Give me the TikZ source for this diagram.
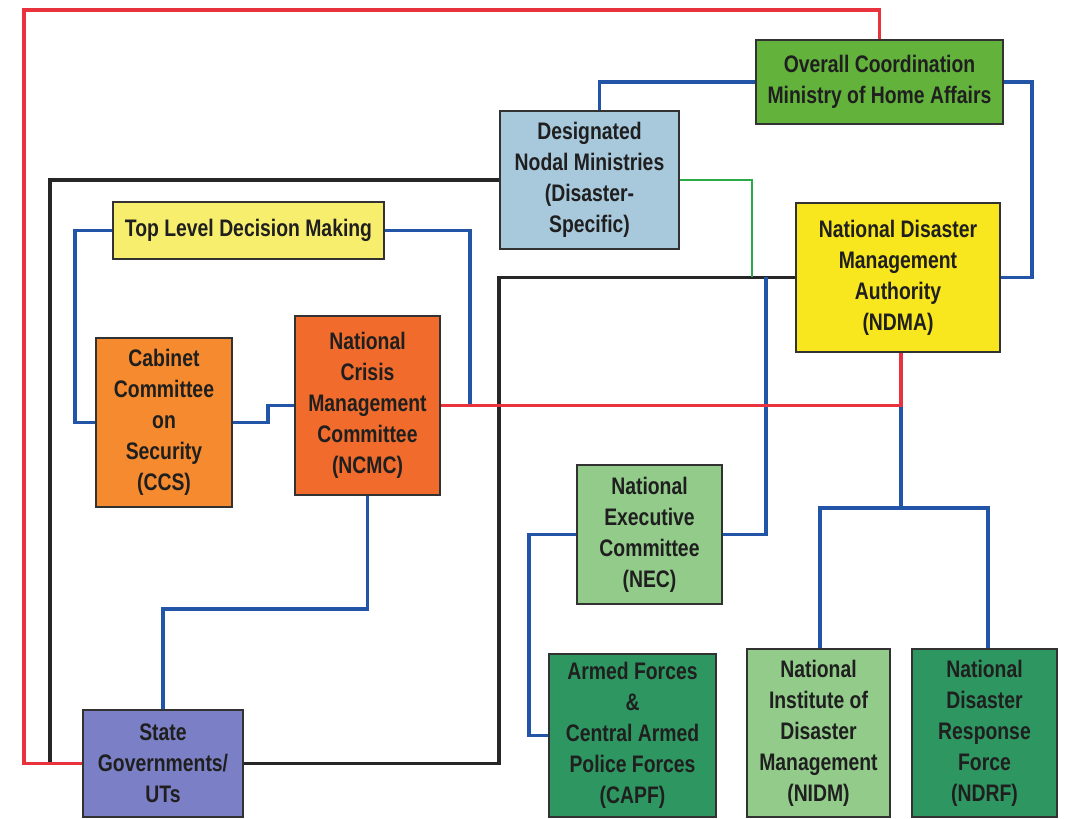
\documentclass[tikz,border=0pt]{standalone}
\usepackage{fontspec}
\setmainfont{Liberation Sans}[FakeStretch=0.81]
\usepackage{tikz}
\usetikzlibrary{calc}
\definecolor{mhagreen}{RGB}{98,178,60}
\definecolor{nodalblue}{RGB}{168,200,220}
\definecolor{paleyellow}{RGB}{248,238,110}
\definecolor{ndmayellow}{RGB}{248,230,30}
\definecolor{ccsorange}{RGB}{245,138,46}
\definecolor{ncmcorange}{RGB}{240,107,44}
\definecolor{palegreen}{RGB}{146,203,138}
\definecolor{darkgreen}{RGB}{46,150,96}
\definecolor{stateblue}{RGB}{123,128,198}
\definecolor{linered}{RGB}{232,51,62}
\definecolor{lineblue}{RGB}{34,85,168}
\definecolor{linegreen}{RGB}{43,170,74}
\definecolor{boxedge}{RGB}{50,50,50}
\tikzstyle{box} = [rectangle, draw=boxedge, line width=2pt, text=black!88, align=center, font=\bfseries\fontsize{17}{22}\selectfont, inner sep=2pt]
\tikzstyle{redline} = [draw=linered, line width=2.3pt]
\tikzstyle{blueline} = [draw=lineblue, line width=2.3pt]
\tikzstyle{blackline} = [draw=black!85, line width=2.3pt]
\tikzstyle{greenline} = [draw=linegreen, line width=2pt]

\begin{document}
\begin{tikzpicture}[x=0.025cm, y=-0.025cm]

            \useasboundingbox (0,0) rectangle (1066,819);

            %% boxes

            \node (mha) [box, fill=mhagreen, minimum width=6.175cm, minimum height=2.1cm] at (879.5,82) {Overall Coordination\\Ministry of Home Affairs};
            \node (dnm) [box, fill=nodalblue, minimum width=4.475cm, minimum height=3.45cm] at (589.5,180) {Designated\\Nodal Ministries\\(Disaster-\\Specific)};
            \node (tldm) [box, fill=paleyellow, minimum width=6.775cm, minimum height=1.425cm] at (248.5,230.5) {Top Level Decision Making};
            \node (ndma) [box, fill=ndmayellow, minimum width=5.1cm, minimum height=3.725cm] at (898,277.5) {National Disaster\\Management\\Authority\\(NDMA)};
            \node (ccs) [box, fill=ccsorange, minimum width=3.4cm, minimum height=4.225cm] at (164,422.5) {Cabinet\\Committee\\on\\Security\\(CCS)};
            \node (ncmc) [box, fill=ncmcorange, minimum width=3.625cm, minimum height=4.475cm] at (367.5,405.5) {National\\Crisis\\Management\\Committee\\(NCMC)};
            \node (nec) [box, fill=palegreen, minimum width=3.625cm, minimum height=3.475cm] at (649.5,534.5) {National\\Executive\\Committee\\(NEC)};
            \node (capf) [box, fill=darkgreen, minimum width=4.175cm, minimum height=4.075cm] at (632.5,735.5) {Armed Forces\\\&\\Central Armed\\Police Forces\\(CAPF)};
            \node (nidm) [box, fill=palegreen, minimum width=3.575cm, minimum height=4.2cm] at (818.5,733) {National\\Institute of\\Disaster\\Management\\(NIDM)};
            \node (ndrf) [box, fill=darkgreen, minimum width=3.625cm, minimum height=4.2cm] at (984.5,733) {National\\Disaster\\Response\\Force\\(NDRF)};
            \node (sgut) [box, fill=stateblue, minimum width=4cm, minimum height=2.675cm] at (163,763.5) {State\\Governments/\\UTs};

            %% junctions

            \coordinate (jblack) at (499,277.5);
            \coordinate (jright) at (1032,277.5);
            \coordinate (jncmc) at (901,405.5);
            \coordinate (jbus) at (901,508);

            %% links

            \draw [blackline] (dnm.west) -| (50,763.5);
            \draw [blackline] (sgut.east) -| (jblack) -- (ndma.west);
            \draw [greenline] (dnm.east) -| (752,277.5);

            \draw [blueline] (mha.west) -| ([xshift=0.25cm]dnm.north);
            \draw [blueline] (mha.east) -| (jright) -- (ndma.east);
            \draw [blueline] (tldm.west) -| (75,422.5) -- (ccs.west);
            \draw [blueline] (tldm.east) -| (470,405.5);
            \draw [blueline] (ccs.east) -- (268,422.5) |- (ncmc.west);
            \draw [blueline] (ncmc.south) -- ++(0,112.5) -| (sgut.north);
            \draw [blueline] (nec.east) -| (766,277.5);
            \draw [blueline] (nec.west) -| (529,735.5) -- (capf.west);
            \draw [blueline] (jncmc) -- (jbus);
            \draw [blueline] (jbus) -| ([xshift=0.04cm]nidm.north);
            \draw [blueline] (jbus) -| ([xshift=0.09cm]ndrf.north);

            \draw [redline] (sgut.west) -| (24,10) -| (mha.north);
            \draw [redline] (ncmc.east) -| ([xshift=0.075cm]ndma.south);

        \end{tikzpicture}
\end{document}
